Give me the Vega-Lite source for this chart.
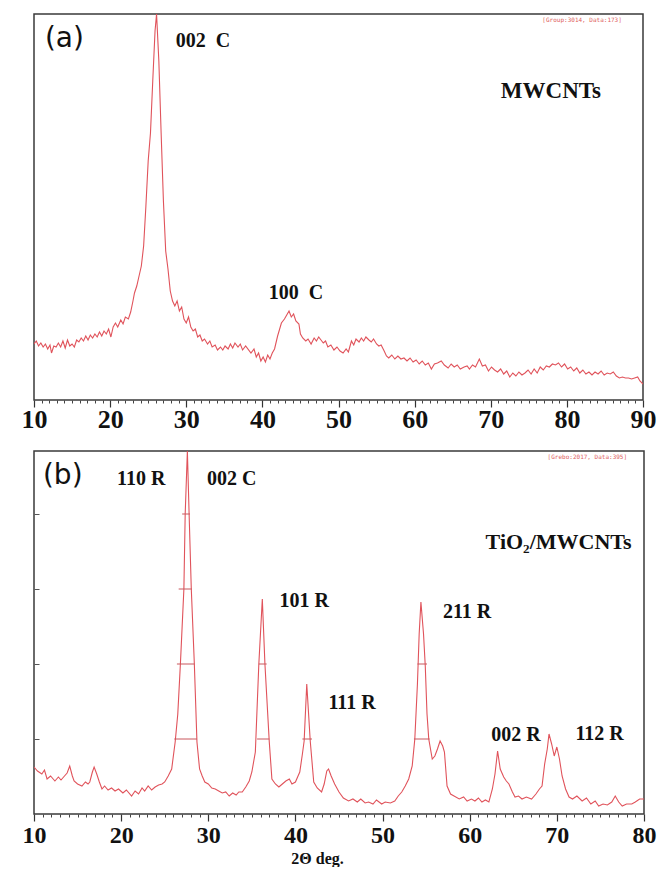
{
  "$schema": "https://vega.github.io/schema/vega-lite/v6.json",
  "autosize": {"type": "pad"},
  "padding": {"left": 20, "top": 13, "right": 2, "bottom": 0},
  "background": "white",
  "config": {"view": {"stroke": "#3a3a3a", "strokeWidth": 1.5}, "font": "Liberation Serif", "axis": {"labelOverlap": false}},
  "spacing": 17,
  "datasets": {
    "a": [
      {"t":10.0,"i":56},{"t":10.3,"i":59},{"t":10.6,"i":54},{"t":10.9,"i":57},{"t":11.2,"i":53},{"t":11.5,"i":56},{"t":11.8,"i":51},{"t":12.1,"i":55},{"t":12.3,"i":47},{"t":12.6,"i":54},{"t":12.9,"i":53},{"t":13.2,"i":57},{"t":13.5,"i":53},{"t":13.8,"i":59},{"t":14.1,"i":52},{"t":14.4,"i":60},{"t":14.7,"i":54},{"t":15.0,"i":56},{"t":15.3,"i":53},{"t":15.6,"i":60},{"t":15.9,"i":58},{"t":16.2,"i":62},{"t":16.5,"i":59},{"t":16.8,"i":64},{"t":17.1,"i":60},{"t":17.4,"i":65},{"t":17.7,"i":62},{"t":18.0,"i":66},{"t":18.3,"i":63},{"t":18.6,"i":68},{"t":18.9,"i":64},{"t":19.2,"i":69},{"t":19.5,"i":66},{"t":19.8,"i":71},{"t":20.1,"i":63},{"t":20.4,"i":73},{"t":20.7,"i":77},{"t":21.0,"i":73},{"t":21.4,"i":80},{"t":21.7,"i":76},{"t":22.0,"i":83},{"t":22.4,"i":81},{"t":22.7,"i":88},{"t":23.0,"i":99},{"t":23.2,"i":107},{"t":23.5,"i":114},{"t":23.8,"i":124},{"t":24.1,"i":134},{"t":24.4,"i":154},{"t":24.7,"i":194},{"t":25.0,"i":239},{"t":25.3,"i":267},{"t":25.6,"i":319},{"t":25.9,"i":369},{"t":26.1,"i":386},{"t":26.4,"i":339},{"t":26.7,"i":267},{"t":27.0,"i":199},{"t":27.3,"i":149},{"t":27.6,"i":131},{"t":27.9,"i":109},{"t":28.2,"i":99},{"t":28.5,"i":94},{"t":28.8,"i":99},{"t":29.1,"i":89},{"t":29.4,"i":93},{"t":29.7,"i":81},{"t":30.0,"i":77},{"t":30.3,"i":83},{"t":30.6,"i":73},{"t":30.9,"i":69},{"t":31.2,"i":71},{"t":31.5,"i":63},{"t":31.8,"i":65},{"t":32.1,"i":59},{"t":32.4,"i":61},{"t":32.8,"i":56},{"t":33.1,"i":59},{"t":33.4,"i":53},{"t":33.8,"i":55},{"t":34.1,"i":50},{"t":34.5,"i":53},{"t":34.8,"i":50},{"t":35.1,"i":54},{"t":35.5,"i":51},{"t":35.8,"i":56},{"t":36.1,"i":52},{"t":36.4,"i":57},{"t":36.8,"i":53},{"t":37.1,"i":56},{"t":37.4,"i":50},{"t":37.8,"i":54},{"t":38.5,"i":47},{"t":38.9,"i":51},{"t":39.2,"i":43},{"t":39.5,"i":47},{"t":39.8,"i":39},{"t":40.1,"i":43},{"t":40.4,"i":38},{"t":40.7,"i":45},{"t":41.0,"i":41},{"t":41.3,"i":47},{"t":41.6,"i":51},{"t":42.0,"i":64},{"t":42.5,"i":77},{"t":42.9,"i":81},{"t":43.2,"i":85},{"t":43.5,"i":89},{"t":43.8,"i":83},{"t":44.1,"i":86},{"t":44.4,"i":79},{"t":44.8,"i":76},{"t":45.0,"i":66},{"t":45.3,"i":62},{"t":45.7,"i":59},{"t":46.0,"i":61},{"t":46.4,"i":56},{"t":46.8,"i":62},{"t":47.1,"i":59},{"t":47.4,"i":63},{"t":47.7,"i":60},{"t":48.0,"i":57},{"t":48.3,"i":59},{"t":48.6,"i":53},{"t":49.0,"i":55},{"t":49.4,"i":50},{"t":49.8,"i":53},{"t":50.2,"i":49},{"t":50.6,"i":47},{"t":51.0,"i":51},{"t":51.3,"i":48},{"t":51.7,"i":59},{"t":52.0,"i":55},{"t":52.3,"i":61},{"t":52.7,"i":58},{"t":53.0,"i":62},{"t":53.3,"i":59},{"t":53.6,"i":63},{"t":54.0,"i":60},{"t":54.3,"i":58},{"t":54.6,"i":61},{"t":55.0,"i":56},{"t":55.3,"i":54},{"t":55.6,"i":55},{"t":56.0,"i":49},{"t":56.3,"i":44},{"t":56.6,"i":42},{"t":57.0,"i":45},{"t":57.4,"i":41},{"t":57.8,"i":44},{"t":58.2,"i":41},{"t":58.6,"i":42},{"t":59.0,"i":39},{"t":59.4,"i":42},{"t":59.8,"i":38},{"t":60.2,"i":40},{"t":60.6,"i":36},{"t":61.0,"i":39},{"t":61.4,"i":35},{"t":61.8,"i":37},{"t":62.2,"i":31},{"t":62.6,"i":36},{"t":63.0,"i":37},{"t":63.5,"i":39},{"t":63.9,"i":35},{"t":64.4,"i":32},{"t":64.8,"i":36},{"t":65.2,"i":33},{"t":65.6,"i":35},{"t":66.0,"i":31},{"t":66.5,"i":33},{"t":66.9,"i":34},{"t":67.2,"i":31},{"t":67.6,"i":35},{"t":68.0,"i":33},{"t":68.5,"i":41},{"t":68.9,"i":34},{"t":69.3,"i":35},{"t":69.7,"i":29},{"t":70.1,"i":33},{"t":70.5,"i":30},{"t":70.9,"i":28},{"t":71.3,"i":31},{"t":71.7,"i":26},{"t":72.1,"i":29},{"t":72.5,"i":23},{"t":72.9,"i":27},{"t":73.3,"i":24},{"t":73.7,"i":28},{"t":74.1,"i":25},{"t":74.5,"i":27},{"t":74.9,"i":30},{"t":75.3,"i":26},{"t":75.7,"i":31},{"t":76.1,"i":27},{"t":76.5,"i":33},{"t":76.9,"i":30},{"t":77.3,"i":34},{"t":77.7,"i":33},{"t":78.1,"i":36},{"t":78.5,"i":35},{"t":78.9,"i":37},{"t":79.3,"i":33},{"t":79.7,"i":36},{"t":80.1,"i":31},{"t":80.5,"i":33},{"t":80.9,"i":29},{"t":81.3,"i":32},{"t":81.7,"i":27},{"t":82.1,"i":30},{"t":82.5,"i":26},{"t":82.9,"i":28},{"t":83.3,"i":25},{"t":83.7,"i":28},{"t":84.1,"i":26},{"t":84.5,"i":29},{"t":84.9,"i":25},{"t":85.3,"i":27},{"t":85.7,"i":26},{"t":86.1,"i":28},{"t":86.5,"i":24},{"t":86.9,"i":22},{"t":87.3,"i":23},{"t":87.7,"i":22},{"t":88.1,"i":22},{"t":88.5,"i":21},{"t":88.9,"i":22},{"t":89.3,"i":23},{"t":89.6,"i":19},{"t":90.0,"i":16}
    ],
    "b": [
      {"t":10.0,"i":47},{"t":10.4,"i":43},{"t":10.9,"i":40},{"t":11.2,"i":44},{"t":11.5,"i":35},{"t":11.9,"i":38},{"t":12.4,"i":33},{"t":12.8,"i":37},{"t":13.1,"i":34},{"t":13.4,"i":37},{"t":13.8,"i":41},{"t":14.1,"i":48},{"t":14.4,"i":38},{"t":14.6,"i":33},{"t":15.0,"i":30},{"t":15.5,"i":28},{"t":15.9,"i":32},{"t":16.2,"i":30},{"t":16.4,"i":32},{"t":16.7,"i":42},{"t":16.9,"i":47},{"t":17.2,"i":40},{"t":17.5,"i":32},{"t":17.8,"i":25},{"t":18.1,"i":28},{"t":18.5,"i":24},{"t":18.9,"i":26},{"t":19.3,"i":23},{"t":19.7,"i":25},{"t":20.2,"i":21},{"t":20.6,"i":24},{"t":21.2,"i":18},{"t":21.6,"i":23},{"t":22.0,"i":20},{"t":22.4,"i":26},{"t":22.7,"i":23},{"t":23.1,"i":28},{"t":23.5,"i":24},{"t":23.9,"i":27},{"t":24.3,"i":29},{"t":24.7,"i":30},{"t":25.0,"i":32},{"t":25.4,"i":38},{"t":25.8,"i":45},{"t":26.2,"i":72},{"t":26.5,"i":100},{"t":26.8,"i":150},{"t":27.2,"i":225},{"t":27.35,"i":300},{"t":27.6,"i":363},{"t":27.8,"i":300},{"t":28.05,"i":225},{"t":28.4,"i":150},{"t":28.7,"i":72},{"t":29.0,"i":45},{"t":29.3,"i":38},{"t":29.6,"i":32},{"t":30.0,"i":30},{"t":30.4,"i":26},{"t":30.8,"i":25},{"t":31.2,"i":23},{"t":31.6,"i":21},{"t":32.0,"i":22},{"t":32.4,"i":18},{"t":32.8,"i":21},{"t":33.2,"i":19},{"t":33.5,"i":22},{"t":33.9,"i":22},{"t":34.3,"i":27},{"t":34.7,"i":33},{"t":35.0,"i":42},{"t":35.4,"i":62},{"t":35.8,"i":150},{"t":36.2,"i":215},{"t":36.5,"i":150},{"t":37.0,"i":72},{"t":37.3,"i":35},{"t":37.7,"i":30},{"t":38.1,"i":27},{"t":38.5,"i":30},{"t":38.9,"i":33},{"t":39.3,"i":35},{"t":39.6,"i":30},{"t":40.0,"i":32},{"t":40.3,"i":38},{"t":40.5,"i":42},{"t":40.8,"i":60},{"t":41.0,"i":73},{"t":41.3,"i":130},{"t":41.7,"i":73},{"t":42.1,"i":32},{"t":42.5,"i":26},{"t":43.0,"i":22},{"t":43.3,"i":30},{"t":43.6,"i":43},{"t":43.8,"i":45},{"t":44.1,"i":38},{"t":44.5,"i":30},{"t":45.0,"i":22},{"t":45.5,"i":16},{"t":46.1,"i":13},{"t":46.6,"i":15},{"t":47.1,"i":12},{"t":47.5,"i":15},{"t":48.0,"i":11},{"t":48.4,"i":12},{"t":48.9,"i":10},{"t":49.3,"i":14},{"t":49.9,"i":10},{"t":50.3,"i":12},{"t":50.9,"i":11},{"t":51.4,"i":13},{"t":51.8,"i":18},{"t":52.2,"i":22},{"t":52.6,"i":28},{"t":53.0,"i":35},{"t":53.4,"i":48},{"t":53.7,"i":75},{"t":54.0,"i":130},{"t":54.2,"i":180},{"t":54.4,"i":212},{"t":54.7,"i":180},{"t":54.9,"i":148},{"t":55.1,"i":100},{"t":55.3,"i":75},{"t":55.7,"i":55},{"t":56.0,"i":58},{"t":56.3,"i":65},{"t":56.6,"i":73},{"t":56.9,"i":68},{"t":57.1,"i":62},{"t":57.4,"i":28},{"t":57.8,"i":20},{"t":58.2,"i":18},{"t":58.8,"i":15},{"t":59.3,"i":17},{"t":59.7,"i":13},{"t":60.2,"i":15},{"t":60.6,"i":13},{"t":61.0,"i":16},{"t":61.4,"i":12},{"t":61.8,"i":14},{"t":62.2,"i":12},{"t":62.6,"i":25},{"t":62.9,"i":40},{"t":63.2,"i":63},{"t":63.5,"i":45},{"t":63.9,"i":37},{"t":64.2,"i":33},{"t":64.5,"i":30},{"t":64.9,"i":22},{"t":65.2,"i":17},{"t":65.6,"i":18},{"t":66.0,"i":15},{"t":66.5,"i":17},{"t":67.1,"i":15},{"t":67.6,"i":20},{"t":68.0,"i":25},{"t":68.3,"i":28},{"t":68.6,"i":50},{"t":68.9,"i":65},{"t":69.1,"i":80},{"t":69.4,"i":70},{"t":69.7,"i":58},{"t":70.0,"i":67},{"t":70.3,"i":55},{"t":70.6,"i":38},{"t":71.0,"i":25},{"t":71.4,"i":17},{"t":71.8,"i":15},{"t":72.3,"i":18},{"t":72.9,"i":13},{"t":73.4,"i":16},{"t":73.9,"i":10},{"t":74.4,"i":13},{"t":74.8,"i":8},{"t":75.3,"i":10},{"t":75.8,"i":9},{"t":76.3,"i":12},{"t":76.7,"i":18},{"t":77.1,"i":12},{"t":77.5,"i":8},{"t":78.0,"i":10},{"t":78.6,"i":10},{"t":79.0,"i":12},{"t":79.5,"i":15},{"t":80.0,"i":15}
    ],
    "bMarks": [
      {"t1":27.0,"t2":27.9,"i":300},{"t1":26.6,"t2":28.1,"i":225},{"t1":26.4,"t2":28.4,"i":150},{"t1":26.1,"t2":28.7,"i":75},
      {"t1":35.8,"t2":36.7,"i":150},{"t1":35.6,"t2":37.0,"i":75},
      {"t1":40.8,"t2":41.9,"i":75},
      {"t1":54.0,"t2":55.1,"i":150},{"t1":53.6,"t2":55.4,"i":75}
    ],
    "aLabels": [
      {"t":32.2,"i":359,"label":"002\u00a0 C"},
      {"t":44.4,"i":107,"label":"100\u00a0 C"}
    ],
    "aTitle": [{"t":77.9,"i":309,"label":"MWCNTs"}],
    "aTag": [{"t":14.0,"i":361,"label":"(a)"}],
    "aNote": [{"t":82.0,"i":380,"label":"[Group:3014, Data:173]"}],
    "bLabels": [
      {"t":22.3,"i":335,"label":"110 R"},
      {"t":32.7,"i":335,"label":"002 C"},
      {"t":41.0,"i":213,"label":"101 R"},
      {"t":46.5,"i":111,"label":"111 R"},
      {"t":59.7,"i":202,"label":"211 R"},
      {"t":65.3,"i":79,"label":"002 R"},
      {"t":74.9,"i":80,"label":"112 R"}
    ],
    "bTitle": [{"t":70.2,"i":272,"label":"TiO₂/MWCNTs"}],
    "bTag": [{"t":13.3,"i":338,"label":"(b)"}],
    "bNote": [{"t":73.5,"i":357,"label":"[Grebo:2017, Data:395]"}]
  },
  "vconcat": [
    {
      "width": 609,
      "height": 386,
      "resolve": {"axis": {"x": "independent"}},
      "layer": [
        {
          "data": {"name": "a"},
          "mark": {"type": "line", "color": "#e0535b", "strokeWidth": 1.1, "clip": true},
          "encoding": {
            "x": {"field": "t", "type": "quantitative", "scale": {"domain": [10, 90], "nice": false, "zero": false},
              "axis": {"orient": "bottom", "values": [10,20,30,40,50,60,70,80,90], "tickSize": 7, "tickWidth": 1.2,
                "labelOverlap": false, "labelBound": false, "labelFlush": false,
                "labelFont": "Liberation Serif", "labelFontWeight": "bold", "labelFontSize": 26, "labelColor": "#111", "labelPadding": -1,
                "tickColor": "#333", "domain": false, "grid": false, "title": null}},
            "y": {"field": "i", "type": "quantitative", "scale": {"domain": [0, 386], "nice": false}, "axis": null}
          }
        },
        {
          "data": {"name": "aLabels"},
          "mark": {"type": "text", "font": "Liberation Serif", "fontWeight": "bold", "fontSize": 20, "color": "#111"},
          "encoding": {"x": {"field": "t", "type": "quantitative", "axis": null}, "y": {"field": "i", "type": "quantitative"}, "text": {"field": "label"}}
        },
        {
          "data": {"name": "aTitle"},
          "mark": {"type": "text", "font": "Liberation Serif", "fontWeight": "bold", "fontSize": 23, "color": "#111"},
          "encoding": {"x": {"field": "t", "type": "quantitative", "axis": null}, "y": {"field": "i", "type": "quantitative"}, "text": {"field": "label"}}
        },
        {
          "data": {"name": "aTag"},
          "mark": {"type": "text", "font": "DejaVu Sans", "fontSize": 28, "color": "#111"},
          "encoding": {"x": {"field": "t", "type": "quantitative", "axis": null}, "y": {"field": "i", "type": "quantitative"}, "text": {"field": "label"}}
        },
        {
          "data": {"name": "aNote"},
          "mark": {"type": "text", "font": "DejaVu Sans Mono", "fontSize": 6, "color": "#e06060"},
          "encoding": {
            "x": {"field": "t", "type": "quantitative",
              "axis": {"orient": "bottom", "values": [11,12,13,14,15,16,17,18,19,21,22,23,24,25,26,27,28,29,31,32,33,34,35,36,37,38,39,41,42,43,44,45,46,47,48,49,51,52,53,54,55,56,57,58,59,61,62,63,64,65,66,67,68,69,71,72,73,74,75,76,77,78,79,81,82,83,84,85,86,87,88,89],
                "labels": false, "tickSize": 3, "tickColor": "#444", "domain": false, "grid": false, "title": null}},
            "y": {"field": "i", "type": "quantitative"}, "text": {"field": "label"}}
        }
      ]
    },
    {
      "width": 610,
      "height": 363,
      "resolve": {"axis": {"x": "independent"}},
      "layer": [
        {
          "data": {"name": "b"},
          "mark": {"type": "line", "color": "#e0535b", "strokeWidth": 1.1, "clip": true},
          "encoding": {
            "x": {"field": "t", "type": "quantitative", "scale": {"domain": [10, 80], "nice": false, "zero": false},
              "axis": {"orient": "bottom", "values": [10,20,30,40,50,60,70,80], "tickSize": 7, "tickWidth": 1.2,
                "labelOverlap": false, "labelBound": false, "labelFlush": false,
                "labelFont": "Liberation Serif", "labelFontWeight": "bold", "labelFontSize": 24, "labelColor": "#111", "labelPadding": 2,
                "tickColor": "#333", "domain": false, "grid": false,
                "title": "2Θ deg.", "titleFont": "Liberation Serif", "titleFontWeight": "bold", "titleFontSize": 16, "titleColor": "#111",
                "titleX": 283, "titleY": 44, "titleBaseline": "middle", "titleAlign": "center"}},
            "y": {"field": "i", "type": "quantitative", "scale": {"domain": [0, 363], "nice": false},
              "axis": {"values": [75,150,225,300], "tickSize": -5, "labels": false, "domain": false, "grid": false, "title": null, "tickColor": "#555"}}
          }
        },
        {
          "data": {"name": "bMarks"},
          "mark": {"type": "rule", "color": "#c9575d", "strokeWidth": 1},
          "encoding": {"x": {"field": "t1", "type": "quantitative", "axis": null}, "x2": {"field": "t2"}, "y": {"field": "i", "type": "quantitative"}}
        },
        {
          "data": {"name": "bLabels"},
          "mark": {"type": "text", "font": "Liberation Serif", "fontWeight": "bold", "fontSize": 20, "color": "#111"},
          "encoding": {"x": {"field": "t", "type": "quantitative", "axis": null}, "y": {"field": "i", "type": "quantitative"}, "text": {"field": "label"}}
        },
        {
          "data": {"name": "bTitle"},
          "mark": {"type": "text", "font": "Liberation Serif", "fontWeight": "bold", "fontSize": 22, "color": "#111"},
          "encoding": {"x": {"field": "t", "type": "quantitative", "axis": null}, "y": {"field": "i", "type": "quantitative"}, "text": {"field": "label"}}
        },
        {
          "data": {"name": "bTag"},
          "mark": {"type": "text", "font": "DejaVu Sans", "fontSize": 28, "color": "#111"},
          "encoding": {"x": {"field": "t", "type": "quantitative", "axis": null}, "y": {"field": "i", "type": "quantitative"}, "text": {"field": "label"}}
        },
        {
          "data": {"name": "bNote"},
          "mark": {"type": "text", "font": "DejaVu Sans Mono", "fontSize": 6, "color": "#e06060"},
          "encoding": {
            "x": {"field": "t", "type": "quantitative",
              "axis": {"orient": "bottom", "values": [11,12,13,14,15,16,17,18,19,21,22,23,24,25,26,27,28,29,31,32,33,34,35,36,37,38,39,41,42,43,44,45,46,47,48,49,51,52,53,54,55,56,57,58,59,61,62,63,64,65,66,67,68,69,71,72,73,74,75,76,77,78,79],
                "labels": false, "tickSize": 3, "tickColor": "#444", "domain": false, "grid": false, "title": null}},
            "y": {"field": "i", "type": "quantitative"}, "text": {"field": "label"}}
        }
      ]
    }
  ]
}
